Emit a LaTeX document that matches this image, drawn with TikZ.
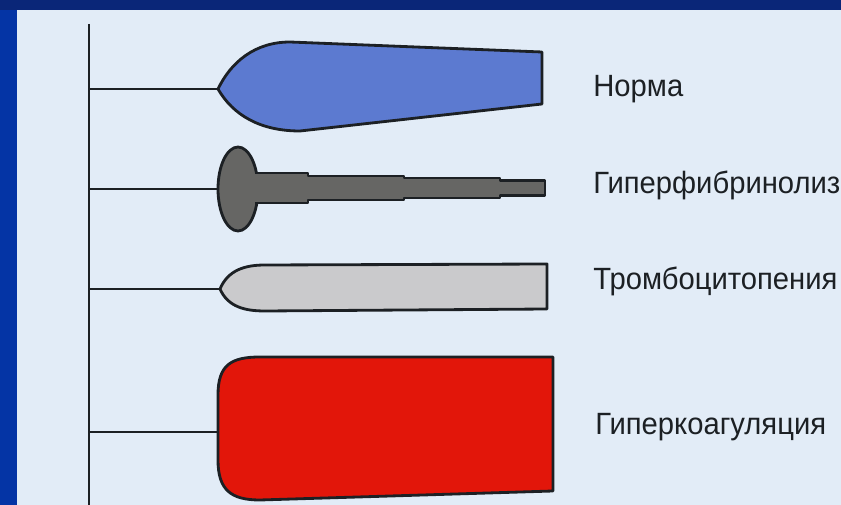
\documentclass[tikz,border=0pt]{standalone}
\usepackage{fontspec}
\setmainfont{Liberation Sans}[FakeStretch=0.95]
\usetikzlibrary{calc}
\definecolor{navytop}{RGB}{10,38,120}
\definecolor{navyleft}{RGB}{4,52,165}
\definecolor{paper}{RGB}{226,236,247}
\definecolor{normblue}{RGB}{92,122,208}
\definecolor{lysisgrey}{RGB}{102,102,100}
\definecolor{pltgrey}{RGB}{202,202,204}
\definecolor{clotred}{RGB}{226,22,10}
\definecolor{inkdark}{RGB}{28,32,36}

\begin{document}
\begin{tikzpicture}[line width=1.5pt,
  blob/.style={draw=inkdark, line width=1.6pt, line join=round},
  lbl/.style={anchor=base west, inner sep=0pt, text=inkdark, font=\fontsize{17.5}{20}\selectfont}]
  \useasboundingbox (0,0) rectangle (16.82,10.10);
  \clip (0,0) rectangle (16.82,10.10);
  \fill[navytop] (0,9.90) rectangle (16.82,10.10);
  \fill[navyleft] (0,0) rectangle (0.34,9.90);
  \fill[paper] (0.34,0) rectangle (16.82,9.90);

  \coordinate (axtop) at (1.78,9.62);
  \coordinate (axbot) at (1.78,0);
  \draw[inkdark] (axtop) -- (axbot);

  \coordinate (ax1) at (1.78,8.32);
  \coordinate (ax2) at (1.78,6.32);
  \coordinate (ax3) at (1.78,4.32);
  \coordinate (ax4) at (1.78,1.46);
  \coordinate (tip1) at (4.36,8.32);
  \coordinate (tip2) at (4.36,6.32);
  \coordinate (tip3) at (4.40,4.32);
  \coordinate (tip4) at (4.36,1.46);

  \draw[blob, fill=normblue] (tip1) .. controls (4.62,8.86) and (5.1,9.26) .. (5.80,9.26)
    -- (10.84,9.06) -- (10.84,8.02) -- (6.00,7.48)
    .. controls (5.2,7.48) and (4.66,7.80) .. cycle;

  \draw[blob, fill=lysisgrey] (4.76,6.32) ellipse [x radius=0.40, y radius=0.84];
  \draw[blob, fill=lysisgrey] (5.10,6.64) -- (6.16,6.64) -- (6.16,6.58) -- (8.08,6.58)
    -- (8.08,6.54) -- (10.00,6.54) -- (10.00,6.49) -- (10.90,6.49) -- (10.90,6.19)
    -- (10.00,6.19) -- (10.00,6.14) -- (8.08,6.14) -- (8.08,6.10) -- (6.16,6.10)
    -- (6.16,6.04) -- (5.10,6.04);

  \draw[blob, fill=pltgrey] (tip3) .. controls (4.56,4.70) and (4.90,4.80) .. (5.30,4.80)
    -- (10.94,4.82) -- (10.94,3.92) -- (5.30,3.88)
    .. controls (4.90,3.88) and (4.56,3.96) .. cycle;

  \draw[blob, fill=clotred] (tip4) -- (4.36,2.20) .. controls (4.36,2.80) and (4.62,2.96) .. (5.20,2.96)
    -- (11.06,2.96) -- (11.06,0.28) -- (5.20,0.10)
    .. controls (4.62,0.10) and (4.36,0.30) .. (4.36,0.90) -- cycle;

  \draw[inkdark] (ax1) -- (tip1);
  \draw[inkdark] (ax2) -- (tip2);
  \draw[inkdark] (ax3) -- (tip3);
  \draw[inkdark] (ax4) -- (tip4);

  \node[lbl] (norma) at (11.84,8.16) {Норма};
  \node[lbl] (lysis) at (11.84,6.22) {Гиперфибринолиз};
  \node[lbl] (plt) at (11.84,4.30) {Тромбоцитопения};
  \node[lbl] (coag) at (11.88,1.40) {Гиперкоагуляция};
\end{tikzpicture}
\end{document}
